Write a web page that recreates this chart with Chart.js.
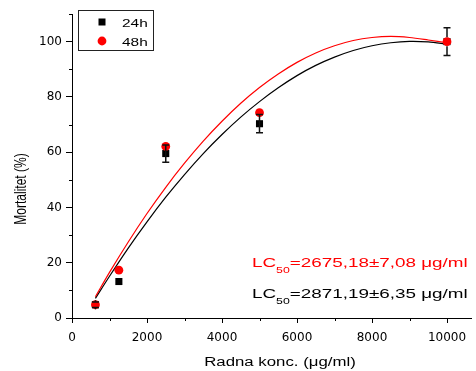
<!DOCTYPE html>
<html>
<head>
<meta charset="utf-8">
<script src="https://cdn.jsdelivr.net/npm/chart.js@4.4.1/dist/chart.umd.min.js"></script>
<style>
  body { margin: 0; background: #fff; }
  #wrap { width: 476px; height: 371px; position: relative; }
</style>
</head>
<body>
<div id="wrap"><canvas id="mort-chart"></canvas></div>
<script>
// measured points (concentration in ug/ml, mortality in %)
var concX = [625, 1250, 2500, 5000, 10000];
var mort24 = [4.8, 13.2, 59.5, 70.3, 100];
var err24 = [1, 0, 3.1, 3.3, 5];
var mort48 = [4.8, 17.3, 62.1, 74.3, 100];

// fitted curves
var fitX = [625, 1000, 1500, 2000, 2500, 3000, 3500, 4000, 4500, 5000, 5500, 6000, 6500, 7000, 7500, 8000, 8500, 9000, 9500, 10000];
var fit24 = [7.1, 15.1, 25.3, 34.8, 43.7, 51.9, 59.5, 66.4, 72.7, 78.3, 83.3, 87.7, 91.4, 94.4, 96.8, 98.5, 99.6, 100.1, 99.9, 99.1];
var fit48 = [7.7, 16.5, 27.5, 37.8, 47.3, 56.0, 64.0, 71.2, 77.7, 83.4, 88.3, 92.5, 95.9, 98.5, 100.4, 101.5, 101.9, 101.5, 100.6, 99.6];

var xTicks = [0, 2000, 4000, 6000, 8000, 10000];
var xMinor = [1000, 3000, 5000, 7000, 9000];
var yTicks = [0, 20, 40, 60, 80, 100];
var yMinor = [10, 30, 50, 70, 90, 110];

var lcRed = '=2675,18\u00b17,08 \u03bcg/ml';
var lcBlack = '=2871,19\u00b16,35 \u03bcg/ml';

var SX = 1.4; // the original picture is stretched sideways

function pts(xs, ys) {
  var out = [];
  for (var i = 0; i < xs.length; i++) {
    out.push({x: xs[i], y: ys[i]});
  }
  return out;
}

function stretchedText(ctx, txt, x, y, font, color, align) {
  ctx.save();
  ctx.font = font;
  ctx.fillStyle = color;
  ctx.textBaseline = 'alphabetic';
  var w = ctx.measureText(txt).width * SX;
  var left = align === 'center' ? x - w / 2 : x;
  ctx.translate(left, y);
  ctx.scale(SX, 1);
  ctx.fillText(txt, 0, 0);
  ctx.restore();
}

function lcText(ctx, main, x, y, color) {
  ctx.save();
  ctx.fillStyle = color;
  ctx.textBaseline = 'alphabetic';
  ctx.translate(x, y);
  ctx.scale(1.45, 1);
  ctx.font = '13px "Liberation Sans", Arial, sans-serif';
  ctx.fillText('LC', 0, 0);
  var w1 = ctx.measureText('LC').width;
  ctx.font = '8.5px "Liberation Sans", Arial, sans-serif';
  ctx.fillText('50', w1, 6);
  var w2 = ctx.measureText('50').width;
  ctx.font = '13px "Liberation Sans", Arial, sans-serif';
  ctx.fillText(main, w1 + w2, 0);
  ctx.restore();
}

function plainNumber(v) {
  return String(v);
}

var extrasPlugin = {
  id: 'extras',
  afterDatasetsDraw: function(chart) {
    var ctx = chart.ctx;
    var xs = chart.scales.x;
    var ys = chart.scales.y;
    // error bars of the 24h series, on top of the markers
    ctx.save();
    ctx.strokeStyle = '#111';
    ctx.lineWidth = 1.5;
    for (var i = 0; i < concX.length; i++) {
      if (!err24[i]) continue;
      var px = xs.getPixelForValue(concX[i]);
      var top = ys.getPixelForValue(mort24[i] + err24[i]);
      var bot = ys.getPixelForValue(mort24[i] - err24[i]);
      var mid = ys.getPixelForValue(mort24[i]);
      ctx.beginPath();
      if (Math.abs(mort24[i] - mort48[i]) < 0.5) {
        ctx.moveTo(px, top); ctx.lineTo(px, mid - 4.5);
        ctx.moveTo(px, mid + 4.5); ctx.lineTo(px, bot);
      } else {
        ctx.moveTo(px, top); ctx.lineTo(px, bot);
      }
      ctx.moveTo(px - 3.5, top); ctx.lineTo(px + 3.5, top);
      ctx.moveTo(px - 3.5, bot); ctx.lineTo(px + 3.5, bot);
      ctx.stroke();
    }
    ctx.restore();
  },
  afterDraw: function(chart) {
    var ctx = chart.ctx;
    var xs = chart.scales.x;
    var ys = chart.scales.y;
    var area = chart.chartArea;
    ctx.save();
    ctx.strokeStyle = '#000';
    ctx.lineWidth = 1;
    ctx.beginPath();
    xMinor.forEach(function(v) {
      var px = Math.round(xs.getPixelForValue(v)) + 0.5;
      ctx.moveTo(px, area.bottom); ctx.lineTo(px, area.bottom + 3);
    });
    yMinor.forEach(function(v) {
      var py = Math.round(ys.getPixelForValue(v)) + 0.5;
      ctx.moveTo(area.left, py); ctx.lineTo(area.left - 3, py);
    });
    ctx.stroke();

    // legend box
    ctx.strokeStyle = '#222';
    ctx.strokeRect(78.5, 10.5, 75, 40);
    ctx.fillStyle = '#000';
    ctx.fillRect(98.5, 18.5, 7, 7);
    ctx.fillStyle = '#ff0000';
    ctx.beginPath();
    ctx.arc(102, 41, 4.4, 0, Math.PI * 2);
    ctx.fill();
    ctx.restore();
    stretchedText(ctx, '24h', 122, 27, '11px "Liberation Sans", Arial, sans-serif', '#000');
    stretchedText(ctx, '48h', 122, 46, '11px "Liberation Sans", Arial, sans-serif', '#000');

    // LC50 notes
    lcText(ctx, lcRed, 252, 267, '#ff0000');
    lcText(ctx, lcBlack, 252, 298, '#000');

    // axis titles
    stretchedText(ctx, 'Radna konc. (\u03bcg/ml)', 280, 366, '12px "Liberation Sans", Arial, sans-serif', '#000', 'center');
    ctx.save();
    ctx.font = '12px "Liberation Sans", Arial, sans-serif';
    ctx.fillStyle = '#000';
    ctx.textAlign = 'center';
    ctx.textBaseline = 'middle';
    ctx.translate(21, 189);
    ctx.scale(SX, 1);
    ctx.rotate(-Math.PI / 2);
    ctx.fillText('Mortalitet (%)', 0, 0);
    ctx.restore();
  }
};

var ctx = document.getElementById('mort-chart').getContext('2d');
var mortChart = new Chart(ctx, {
  type: 'scatter',
  data: {
    datasets: [
      {
        label: '48h',
        data: pts(concX, mort48),
        pointStyle: 'circle',
        pointRadius: 4.4,
        pointBackgroundColor: '#ff0000',
        pointBorderWidth: 0,
        order: 1
      },
      {
        label: '24h',
        data: pts(concX, mort24),
        pointStyle: 'rect',
        pointRadius: 5,
        pointBackgroundColor: '#000',
        pointBorderWidth: 0,
        order: 2
      },
      {
        label: 'fit48',
        data: pts(fitX, fit48),
        showLine: true,
        borderColor: '#ff0000',
        borderWidth: 1.2,
        pointRadius: 0,
        tension: 0.3,
        order: 3
      },
      {
        label: 'fit24',
        data: pts(fitX, fit24),
        showLine: true,
        borderColor: '#000',
        borderWidth: 1.2,
        pointRadius: 0,
        tension: 0.3,
        order: 4
      }
    ]
  },
  options: {
    responsive: true,
    maintainAspectRatio: false,
    animation: false,
    layout: { padding: { top: 14, right: 0, left: 0, bottom: 0 } },
    plugins: { legend: { display: false }, tooltip: { enabled: false } },
    scales: {
      x: {
        type: 'linear',
        min: 0,
        max: 10640,
        afterBuildTicks: function(scale) {
          scale.ticks = xTicks.map(function(v) { return {value: v}; });
        },
        afterFit: function(scale) { scale.height = 53; },
        ticks: {
          color: '#000',
          padding: 8,
          maxRotation: 0,
          callback: plainNumber,
          font: { family: '"DejaVu Sans"', size: 12 }
        },
        grid: { display: true, drawOnChartArea: false, drawTicks: true, tickLength: 5, tickColor: '#000' },
        border: { display: true, color: '#000', width: 1 }
      },
      y: {
        type: 'linear',
        min: 0,
        max: 110,
        afterBuildTicks: function(scale) {
          scale.ticks = yTicks.map(function(v) { return {value: v}; });
        },
        afterFit: function(scale) { scale.width = 72; },
        ticks: {
          color: '#000',
          padding: 4,
          callback: plainNumber,
          font: { family: '"DejaVu Sans"', size: 12 }
        },
        grid: { display: true, drawOnChartArea: false, drawTicks: true, tickLength: 6, tickColor: '#000' },
        border: { display: true, color: '#000', width: 1 }
      }
    }
  },
  plugins: [extrasPlugin]
});
</script>
</body>
</html>
